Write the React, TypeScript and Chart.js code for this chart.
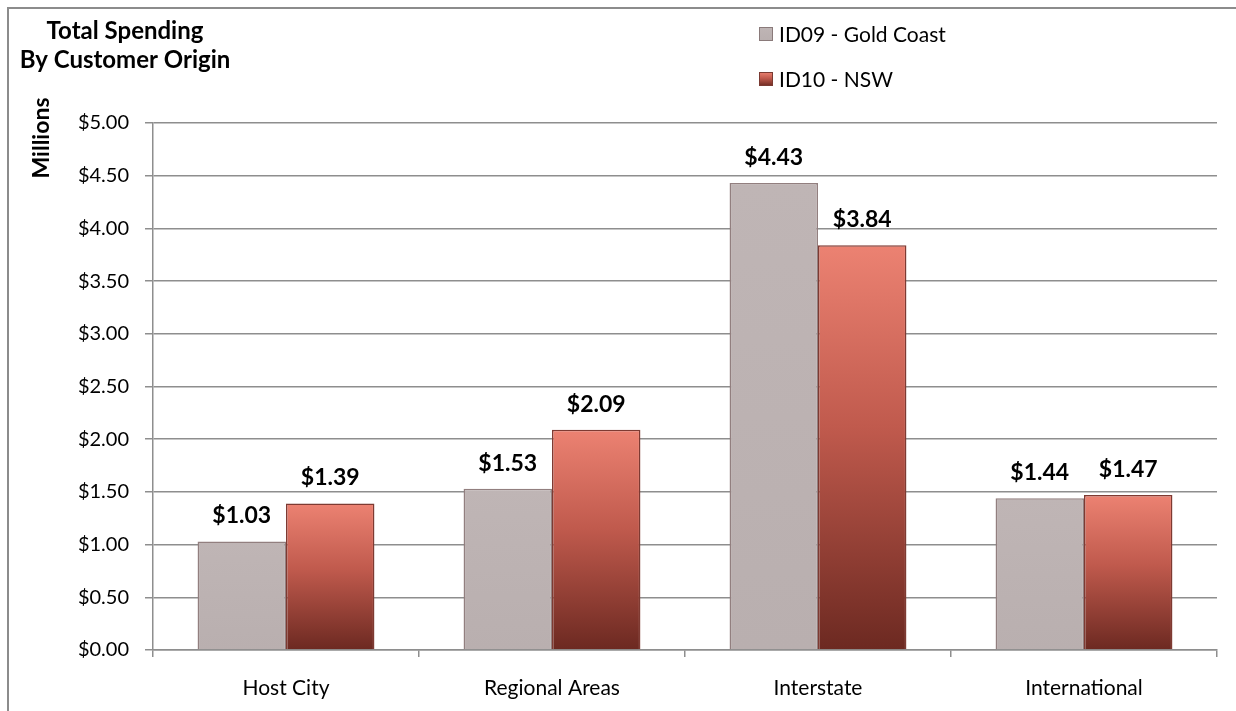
import React, { useEffect, useRef } from "react";
import { Chart, registerables } from "chart.js";

Chart.register(...registerables);

const categories = ["Host City", "Regional Areas", "Interstate", "International"];
const seriesNames = ["ID09 - Gold Coast", "ID10 - NSW"];
const goldCoast = [1.03, 1.53, 4.43, 1.44];
const nsw = [1.39, 2.09, 3.84, 1.47];
const titleLines = ["Total Spending", "By Customer Origin"];
const yAxisTitle = "Millions";
const yMin = 0;
const yMax = 5;
const yStep = 0.5;

const FONT = "Lato, 'Noto Sans', sans-serif";
const GRID = "#8e8e8e";

function redGradient(ctx: CanvasRenderingContext2D, top: number, bottom: number) {
  const g = ctx.createLinearGradient(0, top, 0, bottom);
  g.addColorStop(0, "#ec8272");
  g.addColorStop(0.45, "#c05a4d");
  g.addColorStop(1, "#6c2921");
  return g;
}

function grayGradient(ctx: CanvasRenderingContext2D, top: number, bottom: number) {
  const g = ctx.createLinearGradient(0, top, 0, bottom);
  g.addColorStop(0, "#bfb5b5");
  g.addColorStop(1, "#b9afaf");
  return g;
}

const decorPlugin = {
  id: "decor",
  beforeDraw(chart: any) {
    const { ctx, width, height } = chart;
    ctx.save();
    ctx.fillStyle = "#ffffff";
    ctx.fillRect(0, 0, width, height);
    ctx.strokeStyle = "#8c8c8c";
    ctx.lineWidth = 2;
    ctx.beginPath();
    ctx.moveTo(8, height);
    ctx.lineTo(8, 8);
    ctx.lineTo(width, 8);
    ctx.stroke();
    ctx.restore();
  },
  afterDraw(chart: any) {
    const { ctx } = chart;
    ctx.save();
    // Title
    ctx.fillStyle = "#000";
    ctx.font = `bold 24px ${FONT}`;
    ctx.textAlign = "center";
    ctx.textBaseline = "alphabetic";
    ctx.fillText(titleLines[0], 125, 39);
    ctx.fillText(titleLines[1], 125, 68);
    // Y axis title
    ctx.save();
    ctx.translate(49, 138);
    ctx.rotate(-Math.PI / 2);
    ctx.font = `bold 23px ${FONT}`;
    ctx.textAlign = "center";
    ctx.textBaseline = "alphabetic";
    ctx.fillText(yAxisTitle, 0, 0);
    ctx.restore();
    // Legend
    const legendY = [34, 79];
    chart.data.datasets.forEach((ds: any, i: number) => {
      const y = legendY[i];
      const x = 759;
      const g = i === 0 ? grayGradient(ctx, y - 7, y + 7) : redGradient(ctx, y - 7, y + 7);
      ctx.fillStyle = g;
      ctx.fillRect(x, y - 7, 14, 14);
      ctx.strokeStyle = i === 0 ? "#8a7a7a" : "#7a3a32";
      ctx.lineWidth = 1;
      ctx.strokeRect(x + 0.5, y - 6.5, 13, 13);
      ctx.fillStyle = "#000";
      ctx.font = `21px ${FONT}`;
      ctx.textAlign = "left";
      ctx.textBaseline = "middle";
      ctx.fillText(ds.label, x + 20, y + 1);
    });
    ctx.restore();
  },
  afterDatasetsDraw(chart: any) {
    const { ctx } = chart;
    ctx.save();
    ctx.fillStyle = "#000";
    ctx.font = `bold 23px ${FONT}`;
    ctx.textAlign = "center";
    ctx.textBaseline = "alphabetic";
    chart.data.datasets.forEach((ds: any, di: number) => {
      const meta = chart.getDatasetMeta(di);
      meta.data.forEach((bar: any, i: number) => {
        const v = ds.data[i];
        ctx.fillText("$" + v.toFixed(2), bar.x, bar.y - 18);
      });
    });
    ctx.restore();
  },
};

export default function App() {
  const ref = useRef<HTMLCanvasElement | null>(null);
  useEffect(() => {
    if (!ref.current) return;
    const chart = new Chart(ref.current, {
      type: "bar",
      data: {
        labels: categories,
        datasets: [
          {
            label: seriesNames[0],
            data: goldCoast,
            backgroundColor: (c: any) => {
              const ch = c.chart;
              if (!ch.chartArea || c.dataIndex === undefined) return "#bcb2b2";
              const ys = ch.scales.y;
              const v = goldCoast[c.dataIndex];
              return grayGradient(ch.ctx, ys.getPixelForValue(v), ys.getPixelForValue(0));
            },
            borderColor: "#927f7f",
            borderWidth: 1.5,
          },
          {
            label: seriesNames[1],
            data: nsw,
            backgroundColor: (c: any) => {
              const ch = c.chart;
              if (!ch.chartArea || c.dataIndex === undefined) return "#c05a4d";
              const ys = ch.scales.y;
              const v = nsw[c.dataIndex];
              return redGradient(ch.ctx, ys.getPixelForValue(v), ys.getPixelForValue(0));
            },
            borderColor: "#7e3a32",
            borderWidth: 1.5,
          },
        ],
      },
      options: {
        animation: false,
        responsive: true,
        maintainAspectRatio: false,
        layout: { padding: { top: 123, right: 19, left: 0, bottom: 0 } },
        plugins: {
          legend: { display: false },
          title: { display: false },
          tooltip: { enabled: false },
        },
        datasets: {
          bar: { categoryPercentage: 0.665, barPercentage: 1.0 },
        },
        scales: {
          x: {
            grid: {
              display: true,
              drawOnChartArea: false,
              drawTicks: true,
              tickLength: 7,
              color: GRID,
              lineWidth: 1.5,
              offset: true,
            },
            border: { display: true, color: GRID, width: 1.5 },
            ticks: {
              color: "#000",
              font: { family: FONT, size: 21 },
              padding: 19,
            },
            afterFit: (s: any) => {
              s.height = 61;
            },
          },
          y: {
            min: yMin,
            max: yMax,
            ticks: {
              stepSize: yStep,
              color: "#000",
              font: { family: FONT, size: 20 },
              padding: 16,
              callback: (v: any) => "$" + Number(v).toFixed(2),
            },
            grid: {
              color: GRID,
              lineWidth: 1.5,
              drawTicks: true,
              tickLength: 8,
            },
            border: { display: true, color: GRID, width: 1.5 },
            afterFit: (s: any) => {
              s.width = 153;
            },
          },
        },
      },
      plugins: [decorPlugin],
    });
    return () => chart.destroy();
  }, []);
  return (
    <div style={{ position: "fixed", left: 0, top: 0, width: 1236, height: 711 }}>
      <canvas ref={ref} />
    </div>
  );
}
